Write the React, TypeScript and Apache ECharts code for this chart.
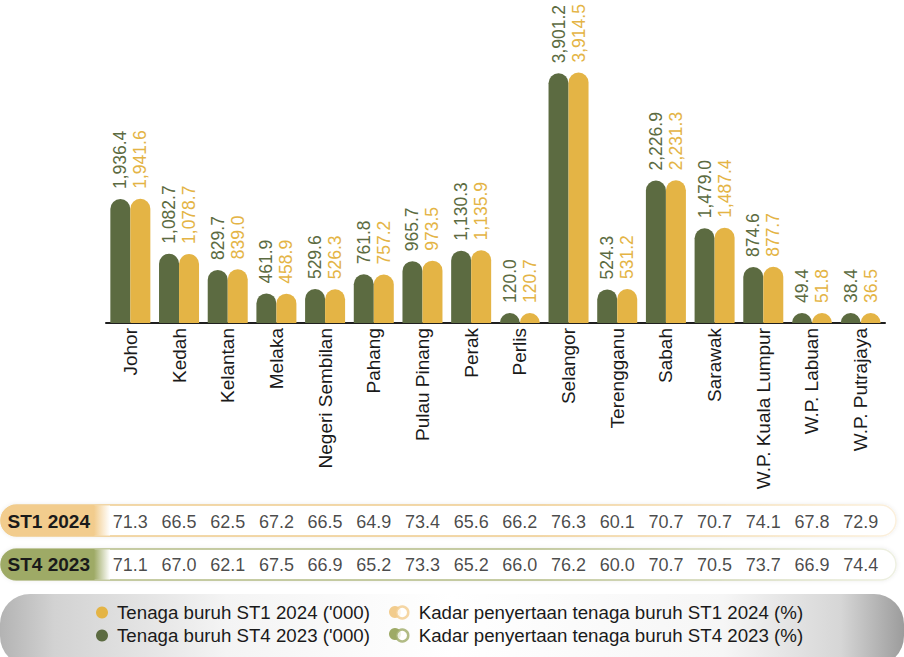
import React, { useEffect, useRef } from "react";
import * as echarts from "echarts";

const CATEGORIES = [
  "Johor", "Kedah", "Kelantan", "Melaka", "Negeri Sembilan", "Pahang", "Pulau Pinang", "Perak",
  "Perlis", "Selangor", "Terengganu", "Sabah", "Sarawak", "W.P. Kuala Lumpur", "W.P. Labuan", "W.P. Putrajaya",
];
const WORKFORCE_ST4_2023 = [1936.4, 1082.7, 829.7, 461.9, 529.6, 761.8, 965.7, 1130.3, 120.0, 3901.2, 524.3, 2226.9, 1479.0, 874.6, 49.4, 38.4];
const WORKFORCE_ST1_2024 = [1941.6, 1078.7, 839.0, 458.9, 526.3, 757.2, 973.5, 1135.9, 120.7, 3914.5, 531.2, 2231.3, 1487.4, 877.7, 51.8, 36.5];
const RATE_ST1_2024 = [71.3, 66.5, 62.5, 67.2, 66.5, 64.9, 73.4, 65.6, 66.2, 76.3, 60.1, 70.7, 70.7, 74.1, 67.8, 72.9];
const RATE_ST4_2023 = [71.1, 67.0, 62.1, 67.5, 66.9, 65.2, 73.3, 65.2, 66.0, 76.2, 60.0, 70.7, 70.5, 73.7, 66.9, 74.4];
const ROW_LABELS = ["ST1 2024", "ST4 2023"];

const NAME_BAR_ST1 = "Tenaga buruh ST1 2024 ('000)";
const NAME_BAR_ST4 = "Tenaga buruh ST4 2023 ('000)";
const NAME_RATE_ST1 = "Kadar penyertaan tenaga buruh ST1 2024 (%)";
const NAME_RATE_ST4 = "Kadar penyertaan tenaga buruh ST4 2023 (%)";

const GREEN = "#5c6b41";
const GOLD = "#e4b445";
const PILL_GOLD = "#f2cc8d";
const PILL_GREEN = "#9eaa66";
const INK = "#1a1a1a";
const FONT = "'Liberation Sans', Arial, sans-serif";

const fmt = new Intl.NumberFormat("en-US", { minimumFractionDigits: 1, maximumFractionDigits: 1 });

const lin = (stops: [number, string][]) => ({
  type: "linear", x: 0, y: 0, x2: 1, y2: 0,
  colorStops: stops.map(([offset, color]) => ({ offset, color })),
});

function rowGraphics(y: number, pill: string, border: string, borderFade: string) {
  const h = 31;
  return [
    {
      type: "rect", z: 0,
      shape: { x: 1, y, width: 895, height: h, r: h / 2 },
      style: {
        fill: "#ffffff", stroke: lin([[0, border], [0.6, border], [1, borderFade]]), lineWidth: 1.5,
        shadowBlur: 4, shadowColor: "rgba(0,0,0,0.08)",
      },
    },
    { type: "rect", z: 0, shape: { x: 0.5, y, width: 94, height: h, r: [h / 2, 0, 0, h / 2] }, style: { fill: pill } },
    { type: "rect", z: 0, shape: { x: 94, y: y + 0.5, width: 16, height: h - 1 }, style: { fill: lin([[0, pill], [1, "#ffffff"]]) } },
  ];
}

export default function App() {
  const ref = useRef<HTMLDivElement>(null);
  useEffect(() => {
    if (!ref.current) return;
    const chart = echarts.init(ref.current, undefined, { renderer: "svg" });
    const barLabel = (color: string) => ({
      show: true, position: "top", rotate: 90, align: "left", verticalAlign: "middle", distance: 10,
      fontSize: 17.5, color, fontFamily: FONT,
      formatter: (p: any) => fmt.format(p.value),
    });
    const rateSeries = (name: string, row: string, values: number[]) => ({
      name, type: "scatter", xAxisIndex: 1, yAxisIndex: 1, symbolSize: 1, silent: true,
      itemStyle: { color: "rgba(0,0,0,0)" },
      data: CATEGORIES.map((c, i) => [c, row, values[i]]),
      label: {
        show: true, position: "inside", fontSize: 18, color: INK, fontFamily: FONT,
        formatter: (p: any) => p.value[2].toFixed(1),
      },
    });
    const legendText = (pad: number) => ({ fontSize: 18.7, color: INK, lineHeight: 18, fontFamily: FONT, padding: [0, 0, 0, pad] });
    chart.setOption({
      animation: false,
      textStyle: { fontFamily: FONT },
      grid: [
        { left: 106, right: 19, top: 67, bottom: 334 },
        { left: 106, right: 19, top: 500, height: 86 },
      ],
      xAxis: [
        {
          type: "category", gridIndex: 0, data: CATEGORIES,
          axisLine: { lineStyle: { color: "#1f1f1f", width: 2 } },
          axisTick: { show: false },
          axisLabel: { rotate: 90, fontSize: 19, color: INK, margin: 5, interval: 0, fontFamily: FONT },
        },
        { type: "category", gridIndex: 1, data: CATEGORIES, show: false },
      ],
      yAxis: [
        { type: "value", gridIndex: 0, min: 0, max: 4000, show: false, splitLine: { show: false } },
        {
          type: "category", gridIndex: 1, data: ROW_LABELS, inverse: true,
          axisLine: { show: false }, axisTick: { show: false }, splitLine: { show: false },
          axisLabel: { fontSize: 19, fontWeight: "bold", color: INK, margin: 16, fontFamily: FONT },
        },
      ],
      legend: [
        {
          left: 91, top: 598, padding: 5, orient: "vertical", itemGap: 4, itemWidth: 12, itemHeight: 12, icon: "circle",
          selectedMode: false, data: [NAME_BAR_ST1, NAME_BAR_ST4], textStyle: legendText(4),
        },
        {
          left: 390, top: 598, padding: 5, orient: "vertical", itemGap: 4, itemWidth: 13, itemHeight: 12,
          selectedMode: false, textStyle: legendText(5),
          data: [
            { name: NAME_RATE_ST1, icon: "circle", itemStyle: { color: "#ffffff", borderColor: PILL_GOLD, borderWidth: 2.5 } },
            { name: NAME_RATE_ST4, icon: "circle", itemStyle: { color: "#ffffff", borderColor: PILL_GREEN, borderWidth: 2.5 } },
          ],
        },
      ],
      graphic: [
        {
          type: "rect", z: 0,
          shape: { x: 0, y: 594, width: 904, height: 72, r: 30 },
          style: {
            fill: lin([[0, "#b3b3b3"], [0.06, "#d2d2d2"], [0.25, "#f4f4f4"], [0.5, "#ffffff"], [0.8, "#f6f6f6"], [0.93, "#d6d6d6"], [1, "#9c9c9c"]]),
          },
        },
        ...rowGraphics(505, PILL_GOLD, "#eecb8c", "#fbf0dd"),
        ...rowGraphics(549, PILL_GREEN, "#b3bb85", "#eef0e2"),
        { type: "circle", z: 1, shape: { cx: 395, cy: 612, r: 6 }, style: { fill: PILL_GOLD } },
        { type: "circle", z: 1, shape: { cx: 395, cy: 634, r: 6 }, style: { fill: PILL_GREEN } },
      ],
      series: [
        {
          name: NAME_BAR_ST4, type: "bar", xAxisIndex: 0, yAxisIndex: 0, data: WORKFORCE_ST4_2023,
          barWidth: 20, barGap: "0%", barMinHeight: 10,
          itemStyle: { color: GREEN, borderRadius: [10, 10, 0, 0] },
          label: barLabel(GREEN),
        },
        {
          name: NAME_BAR_ST1, type: "bar", xAxisIndex: 0, yAxisIndex: 0, data: WORKFORCE_ST1_2024,
          barWidth: 20, barGap: "0%", barMinHeight: 10,
          itemStyle: { color: GOLD, borderRadius: [10, 10, 0, 0] },
          label: barLabel(GOLD),
        },
        rateSeries(NAME_RATE_ST1, ROW_LABELS[0], RATE_ST1_2024),
        rateSeries(NAME_RATE_ST4, ROW_LABELS[1], RATE_ST4_2023),
      ],
    } as any);
    return () => chart.dispose();
  }, []);
  return (
    <div
      ref={ref}
      style={{ position: "fixed", left: 0, top: 0, width: 904, height: 657, background: "#ffffff" }}
    />
  );
}
